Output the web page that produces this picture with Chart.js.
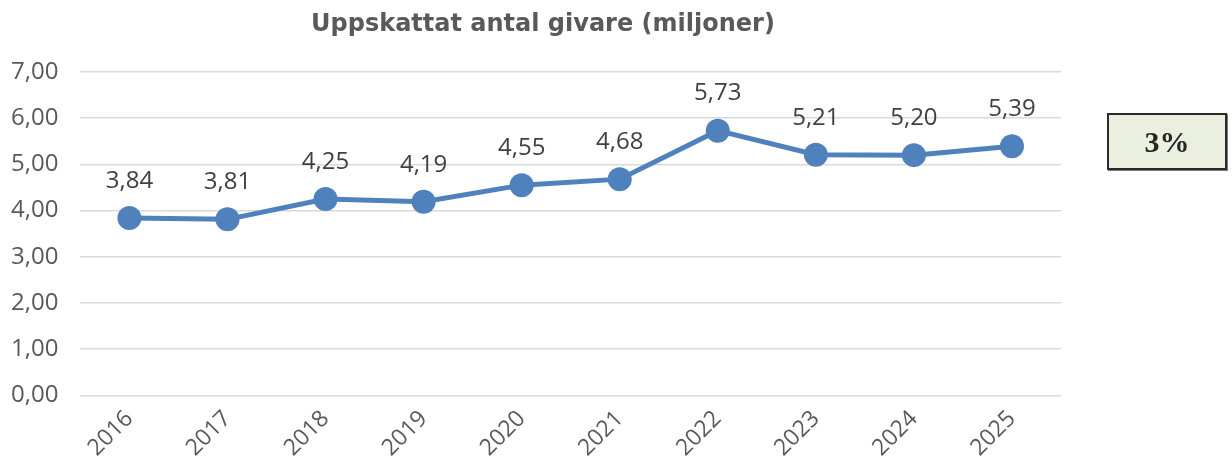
<!DOCTYPE html>
<html lang="sv">
<head>
<meta charset="utf-8">
<title>Uppskattat antal givare</title>
<script src="https://cdn.jsdelivr.net/npm/chart.js@4/dist/chart.umd.min.js"></script>
<style>
  html, body { margin: 0; padding: 0; background: #fff; }
  #wrap { position: relative; width: 1232px; height: 467px; }
  #rubrik {
    position: absolute; left: 243px; top: 9px; width: 600px; text-align: center;
    font: bold 24px "DejaVu Sans", sans-serif; color: #595959;
  }
  #andel {
    position: absolute; left: 1107px; top: 113px; width: 120px; height: 57px;
    background: #ebefdf; border: 2px solid #2b2b2b; box-sizing: border-box;
    box-shadow: 1px 1px 0 #777;
    font: bold 30px "Liberation Serif", "DejaVu Serif", serif; color: #262626;
    display: flex; align-items: center; justify-content: center;
  }
</style>
</head>
<body>
<div id="wrap">
  <canvas id="c-givare" width="1232" height="467"></canvas>
  <div id="rubrik"></div>
  <div id="andel">3%</div>
</div>
<script>
// Data
const ar = ['2016', '2017', '2018', '2019', '2020', '2021', '2022', '2023', '2024', '2025'];
const givare = [3.84, 3.81, 4.25, 4.19, 4.55, 4.68, 5.73, 5.21, 5.20, 5.39];
const rubrik = 'Uppskattat antal givare (miljoner)';

document.getElementById('rubrik').textContent = rubrik;

const fmt = (v) => v.toFixed(2).replace('.', ',');
const textFarg = '#595959';

// Värdeetiketter ovanför punkterna
const etiketter = {
    id: 'etiketter',
    afterDatasetsDraw(chart) {
        const ctx = chart.ctx;
        const meta = chart.getDatasetMeta(0);
        ctx.save();
        ctx.font = '24px "Open Sans", sans-serif';
        ctx.fillStyle = '#404040';
        ctx.textAlign = 'center';
        ctx.textBaseline = 'middle';
        meta.data.forEach((pt, i) => {
            ctx.fillText(fmt(givare[i]), pt.x, pt.y - 37);
        });
        ctx.restore();
    }
};

Chart.defaults.font.family = '"Open Sans", sans-serif';

new Chart(document.getElementById('c-givare'), {
    type: 'line',
    data: {
        labels: ar,
        datasets: [{
            data: givare,
            borderColor: '#4f81bd',
            backgroundColor: '#4f81bd',
            borderWidth: 5,
            pointRadius: 12,
            pointHoverRadius: 12,
            pointBorderWidth: 0,
            tension: 0
        }]
    },
    options: {
        responsive: false,
        animation: false,
        layout: { padding: { left: -11, right: 171, top: 72, bottom: 3 } },
        plugins: {
            legend: { display: false },
            tooltip: { enabled: false },
            title: { display: false }
        },
        scales: {
            x: {
                offset: true,
                grid: { display: false },
                border: { display: false },
                ticks: {
                    color: textFarg,
                    font: { size: 23 },
                    minRotation: 45,
                    maxRotation: 45,
                    padding: 2
                }
            },
            y: {
                min: 0,
                max: 7,
                grid: { color: '#d9d9d9', lineWidth: 1.5, drawTicks: false },
                border: { display: false },
                ticks: {
                    stepSize: 1,
                    color: textFarg,
                    font: { size: 24 },
                    padding: 22,
                    callback: (v) => fmt(v)
                }
            }
        }
    },
    plugins: [etiketter]
});
</script>
</body>
</html>
